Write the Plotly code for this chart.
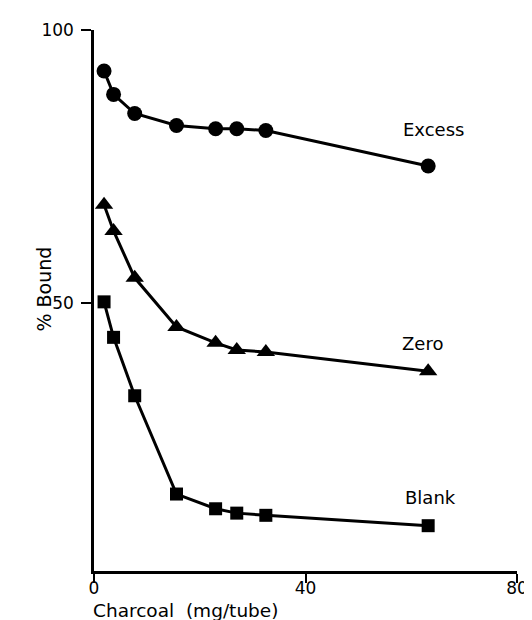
import plotly.graph_objects as go

charcoal = [1.9, 3.7, 7.7, 15.6, 23.0, 27.0, 32.5, 63.2]
excess = [92.5, 88.2, 84.7, 82.5, 81.9, 81.9, 81.6, 75.1]
zero = [68.0, 63.2, 54.6, 45.6, 42.7, 41.4, 41.0, 37.5]
blank = [50.2, 43.7, 33.0, 15.0, 12.3, 11.5, 11.1, 9.2]
series_names = ["Excess", "Zero", "Blank"]
x_ticks = [0, 40, 80]
y_ticks = [50, 100]

FONT = "DejaVu Sans"
fig = go.Figure()
specs = [
    (excess, "circle", 15, 36, 5),
    (zero, "triangle-up", 16, 28, -6),
    (blank, "square", 13, 28, 2),
]
for name, (vals, sym, size, ysh, xsh) in zip(series_names, specs):
    fig.add_trace(go.Scatter(
        x=charcoal, y=vals, mode="lines+markers", name=name,
        line=dict(color="black", width=3),
        marker=dict(symbol=sym, size=size, color="black"),
        showlegend=False,
    ))
    fig.add_annotation(x=charcoal[-1], y=vals[-1], text=name, showarrow=False,
                       xshift=xsh, yshift=ysh,
                       font=dict(family=FONT, size=18, color="black"))

fig.add_annotation(xref="paper", yref="paper", x=-0.148, y=0.521, text="% Bound",
                   textangle=-90, showarrow=False,
                   font=dict(family=FONT, size=19, color="black"))
fig.add_annotation(xref="paper", yref="paper", x=-0.005, y=-0.095, xanchor="left",
                   text="Charcoal  (mg/tube)", showarrow=False, borderpad=0,
                   font=dict(family=FONT, size=18.5, color="black"))

fig.update_xaxes(range=[0, 80], tickvals=x_ticks, ticks="outside", ticklen=9,
                 ticklabelstandoff=-9,
                 tickwidth=2, tickcolor="black", showline=True, linecolor="black",
                 linewidth=2.5, showgrid=False, zeroline=False,
                 tickfont=dict(family=FONT, size=17, color="black"))
fig.update_yaxes(range=[0.9, 100], tickvals=y_ticks, ticks="outside", ticklen=10,
                 ticklabelstandoff=4,
                 tickwidth=2, tickcolor="black", showline=True, linecolor="black",
                 linewidth=2.5, showgrid=False, zeroline=False,
                 tickfont=dict(family=FONT, size=17, color="black"))
fig.update_layout(width=532, height=620, plot_bgcolor="white", paper_bgcolor="white",
                  margin=dict(l=86, r=14, t=22, b=57))
fig.write_html("out.html")
